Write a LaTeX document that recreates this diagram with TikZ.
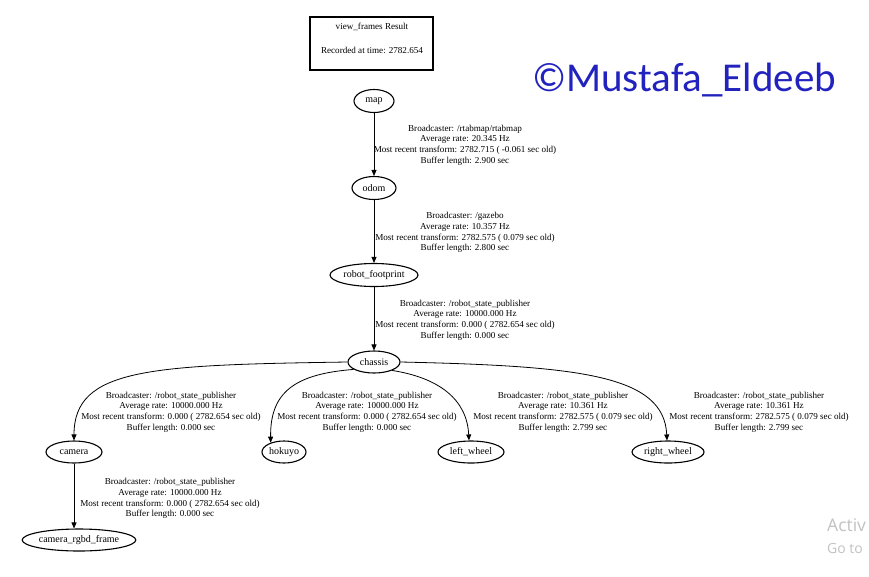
\documentclass[tikz,border=0pt]{standalone}
\usepackage{fontspec}
\setmainfont{Liberation Serif}
\newfontfamily\wmfont{Carlito}
\newfontfamily\winfont{Open Sans}
\usetikzlibrary{shapes.geometric,arrows.meta}
\definecolor{wmblue}{RGB}{34,34,190}
\begin{document}
\begin{tikzpicture}[x=1pt,y=-1pt,
  frame/.style={draw, ellipse, line width=1.1pt, inner sep=0pt, minimum height=23pt, font=\fontsize{10}{11}\selectfont},
  edge/.style={draw, line width=0.8pt, -{Triangle[length=6pt,width=5pt]}},
  lbl/.style={align=center, font=\fontsize{9.1}{10.7}\selectfont, inner sep=0pt}]
\useasboundingbox (0,0) rectangle (869,576);
\fill[white] (0,0) rectangle (869,576);

% title box
\node[draw, line width=1.5pt, minimum width=123pt, minimum height=53pt, inner sep=0pt] (title) at (371.5,43.5) {};
\node[lbl] (t1) at (372,27) {view\_frames Result};
\node[lbl] (t2) at (372,50) {Recorded at time: 2782.654};

% watermark
\node[text=wmblue, font=\wmfont\fontsize{41}{41}\selectfont, inner sep=0pt, anchor=west] (wm) at (532,80) {©Mustafa\_Eldeeb};

% frames
\node[frame, minimum width=40pt] (map) at (374,101) {map};
\node[frame, minimum width=44pt] (odom) at (374,188) {odom};
\node[frame, minimum width=88pt] (fp) at (374,275) {robot\_footprint};
\node[frame, minimum width=52pt, minimum height=22pt] (chassis) at (374,362) {chassis};
\node[frame, minimum width=56pt, minimum height=22pt] (camera) at (74,452) {camera};
\node[frame, minimum width=44pt, minimum height=22pt] (hokuyo) at (284,452) {hokuyo};
\node[frame, minimum width=66pt, minimum height=22pt] (lw) at (471,452) {left\_wheel};
\node[frame, minimum width=72pt, minimum height=22pt] (rw) at (668,452) {right\_wheel};
\node[frame, minimum width=110pt, minimum height=22pt] (rgbd) at (79,540) {camera\_rgbd\_frame};

% edges
\draw[edge] (map) -- (odom);
\draw[edge] (odom) -- (fp);
\draw[edge] (fp) -- (chassis);
\draw[edge] (chassis.west) .. controls (150,365) and (74,368) .. (camera.north);
\draw[edge] (chassis.200) .. controls (295,374) and (270,392) .. (hokuyo.145);
\draw[edge] (chassis.-25) .. controls (440,378) and (467,400) .. (lw.100);
\draw[edge] (chassis.east) .. controls (580,366) and (664,375) .. (rw.95);
\draw[edge] (camera) -- (camera|-rgbd.north);

% edge labels
\node[lbl] (l1) at (465,145) {Broadcaster: /rtabmap/rtabmap\\Average rate: 20.345 Hz\\Most recent transform: 2782.715 ( -0.061 sec old)\\Buffer length: 2.900 sec};
\node[lbl] (l2) at (465,232.5) {Broadcaster: /gazebo\\Average rate: 10.357 Hz\\Most recent transform: 2782.575 ( 0.079 sec old)\\Buffer length: 2.800 sec};
\node[lbl] (l3) at (465,320) {Broadcaster: /robot\_state\_publisher\\Average rate: 10000.000 Hz\\Most recent transform: 0.000 ( 2782.654 sec old)\\Buffer length: 0.000 sec};
\node[lbl] (l4) at (171,412) {Broadcaster: /robot\_state\_publisher\\Average rate: 10000.000 Hz\\Most recent transform: 0.000 ( 2782.654 sec old)\\Buffer length: 0.000 sec};
\node[lbl] (l5) at (367,412) {Broadcaster: /robot\_state\_publisher\\Average rate: 10000.000 Hz\\Most recent transform: 0.000 ( 2782.654 sec old)\\Buffer length: 0.000 sec};
\node[lbl] (l6) at (563,412) {Broadcaster: /robot\_state\_publisher\\Average rate: 10.361 Hz\\Most recent transform: 2782.575 ( 0.079 sec old)\\Buffer length: 2.799 sec};
\node[lbl] (l7) at (759,412) {Broadcaster: /robot\_state\_publisher\\Average rate: 10.361 Hz\\Most recent transform: 2782.575 ( 0.079 sec old)\\Buffer length: 2.799 sec};
\node[lbl] (l8) at (170,498.5) {Broadcaster: /robot\_state\_publisher\\Average rate: 10000.000 Hz\\Most recent transform: 0.000 ( 2782.654 sec old)\\Buffer length: 0.000 sec};

% windows watermark
\begin{scope}
\clip (0,0) rectangle (869,576);
\node[text=black!24, font=\winfont\fontsize{17.5}{17.5}\selectfont, inner sep=0pt, anchor=west] (act) at (827,525) {Activ};
\node[text=black!24, font=\winfont\fontsize{14}{14}\selectfont, inner sep=0pt, anchor=west] (goto) at (827,548) {Go to};
\end{scope}
\end{tikzpicture}
\end{document}
